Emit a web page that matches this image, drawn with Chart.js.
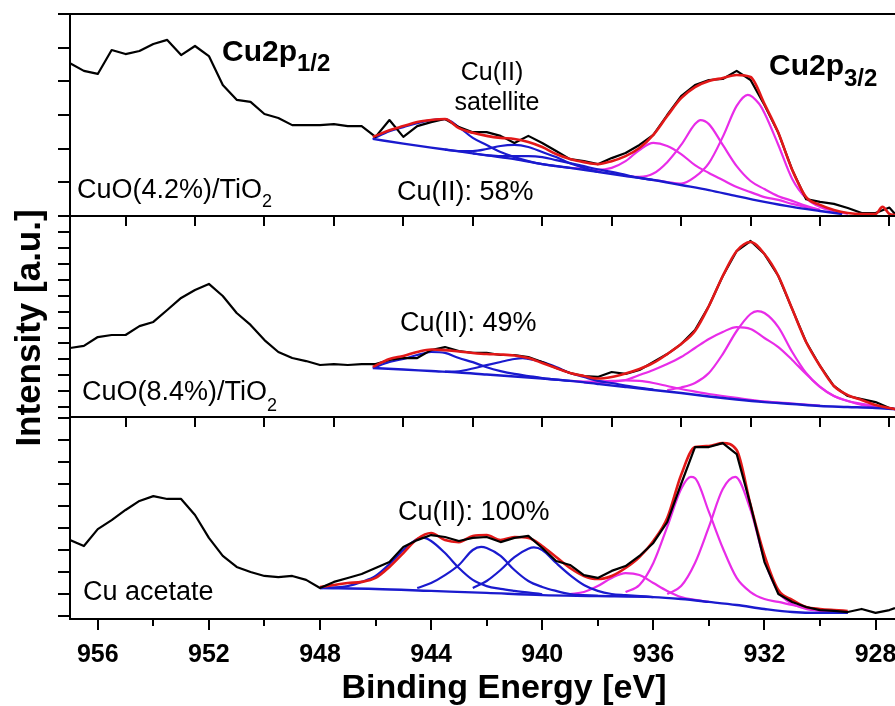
<!DOCTYPE html>
<html>
<head>
<meta charset="utf-8">
<script src="https://cdn.jsdelivr.net/npm/chart.js@4.4.1/dist/chart.umd.min.js"></script>
<style>
  html, body { margin: 0; padding: 0; background: #fff; }
  canvas { display: block; }
</style>
</head>
<body>
<canvas id="xps" width="895" height="706"></canvas>
<script>
// binding energy grid of the measured spectra (eV)
const energies = [957, 956.5, 956, 955.5, 955, 954.5, 954, 953.5, 953, 952.5,
  952, 951.5, 951, 950.5, 950, 949.5, 949, 948.5, 948, 947.5,
  947, 946.5, 946, 945.5, 945, 944.5, 944, 943.5, 943, 942.5,
  942, 941.5, 941, 940.5, 940, 939.5, 939, 938.5, 938, 937.5,
  937, 936.5, 936, 935.5, 935, 934.5, 934, 933.5, 933, 932.5,
  932, 931.5, 931, 930.5, 930, 929.5, 929, 928.5, 928, 927.5, 927.3];

// measured intensity, arbitrary units per panel
const measCuO42 = [45.4, 43.1, 42.2, 49.3, 48.1, 49.0, 51.1, 52.3, 47.8, 50.5,
  47.5, 38.9, 34.5, 33.9, 30.3, 29.1, 27.0, 27.0, 27.0, 27.3,
  26.7, 26.7, 23.5, 28.5, 23.5, 26.7, 27.9, 28.8, 26.4, 24.9,
  24.9, 23.8, 21.7, 23.8, 21.7, 19.3, 16.9, 16.3, 15.4, 17.2,
  18.7, 21.1, 24.1, 30.0, 35.6, 38.9, 40.4, 40.7, 43.1, 40.4,
  33.0, 24.7, 13.7, 5.0, 4.2, 3.6, 2.4, 0.9, 0.9, 2.5, 0.6];
const measCuO84 = [37.1, 38.4, 44.0, 45.3, 45.3, 50.9, 53.5, 61.0, 68.6, 73.6,
  77.4, 69.8, 59.1, 51.6, 42.1, 34.6, 30.8, 28.9, 26.4, 27.0,
  26.4, 27.0, 27.0, 29.6, 30.8, 30.8, 35.8, 37.7, 35.2, 34.0,
  34.0, 32.7, 32.7, 31.4, 28.3, 24.5, 21.4, 19.5, 18.9, 22.0,
  20.8, 23.3, 28.3, 33.3, 39.6, 48.4, 63.5, 82.4, 98.1, 104.4,
  96.2, 82.4, 61.6, 40.9, 25.8, 13.2, 6.9, 5.0, 3.1, -0.6, -1.3];
const measAcetate = [34.5, 31.8, 39.5, 43.6, 48.2, 52.3, 54.5, 53.2, 53.2, 45.9,
  35.5, 27.3, 22.3, 20.0, 18.2, 17.7, 18.2, 16.4, 12.7, 15.5,
  17.3, 19.1, 21.8, 24.5, 31.4, 34.5, 36.8, 35.9, 34.1, 35.5,
  35.9, 33.6, 35.5, 36.4, 30.9, 25.0, 23.2, 18.6, 17.3, 20.5,
  22.7, 27.3, 33.2, 42.7, 60.0, 76.8, 76.8, 78.6, 73.6, 50.5,
  24.5, 10.0, 6.4, 4.1, 2.7, 2.3, 1.8, 3.2, 1.4, 2.7, 3.6];

// fitted curves, [energy, intensity]
const envCuO42 = [[946.1,23.5],[946,23.8],[945.5,25.5],[945,26.7],[944.5,27.9],[944,28.5],[943.5,28.8],[943,26.1],[942.5,24.7],[942,23.8],[941.5,23.2],[941,22.9],[940.5,22.0],[940,20.5],[939.5,18.4],[939,16.9],[938.5,16.0],[938,15.4],[937.5,16.3],[937,17.8],[936.5,20.2],[936,24.1],[935.5,29.7],[935,35.0],[934.5,38.3],[934,40.1],[933.5,41.0],[933,41.9],[932.5,41.3],[932,33.3],[931.5,24.7],[931,13.7],[930.5,5.6],[930,3.3],[929.5,1.8],[929,0.9],[928.5,0.6],[928,0.6],[927.75,2.7],[927.5,0.6],[927.3,0.3]];
const bgCuO42 = [[946.1,22.9],[945,21.5],[944,20.3],[943,19.2],[942,18.0],[941,16.9],[940,15.4],[939,14.3],[938,13.1],[937,11.9],[936,10.7],[935,9.2],[934,7.7],[933,5.9],[932,4.2],[931,2.7],[930,1.5],[929.2,0.6]];
const satCuO42 = [
  [[946.1,22.9],[945.5,25.2],[945,26.4],[944.5,27.6],[944,28.5],[943.5,28.8],[943,26.4],[942.5,23.2],[942,21.1],[941.5,19.0],[941,17.5],[940.5,16.3],[940,15.4],[939.5,14.8],[939,14.3]],
  [[943.5,19.7],[943,19.3],[942.5,19.3],[942,19.9],[941.5,20.8],[941,21.1],[940.5,20.5],[940,19.0],[939.5,17.5],[939,15.7],[938.5,14.3],[938,13.1]],
  [[942.5,18.6],[942,18.1],[941.5,17.8],[941,17.8],[940.5,17.8],[940,17.5],[939.5,16.6],[939,15.7],[938.5,14.8],[938,13.9],[937.5,13.1],[937,12.2],[936.5,11.3],[936,10.7]]
];
const mainCuO42 = [
  [[939,14.3],[938.5,14.0],[938,13.7],[937.5,14.3],[937,16.3],[936.5,19.6],[936,21.7],[935.5,20.8],[935,18.4],[934.5,15.1],[934,12.8],[933.5,10.7],[933,8.6],[932.5,7.1],[932,5.6],[931.5,4.8],[931,3.6],[930,1.8]],
  [[937,11.9],[936.5,11.6],[936,12.6],[935.5,16.0],[935,21.1],[934.5,27.3],[934.3,28.5],[934,27.3],[933.5,21.1],[933,14.8],[932.5,10.4],[932,8.0],[931.5,5.9],[931,4.5],[930.5,3.0],[930,1.8]],
  [[936,10.7],[935.5,10.1],[935,9.6],[934.5,11.6],[934,15.7],[933.5,23.5],[933,32.7],[932.6,36.0],[932.2,33.4],[932,30.6],[931.5,21.1],[931,11.0],[930.5,5.3],[930,2.7],[929.5,1.5],[929,0.6]]
];

const envCuO84 = [[946.1,25.2],[945.5,30.2],[945,32.1],[944.5,34.6],[944,36.2],[943.5,35.8],[943,34.9],[942.5,34.0],[942,33.3],[941.5,33.0],[941,32.4],[940.5,30.8],[940,27.7],[939.5,24.5],[939,21.4],[938.5,19.5],[938,17.9],[937.5,18.9],[937,21.1],[936.5,23.9],[936,27.7],[935.5,33.3],[935,39.6],[934.5,47.8],[934,63.5],[933.5,82.4],[933,98.1],[932.5,103.8],[932,96.2],[931.5,82.4],[931,61.6],[930.5,40.9],[930,25.8],[929.5,13.2],[929,7.5],[928.5,4.4],[928,1.3],[927.5,-0.6],[927.3,-1.3]];
const bgCuO84 = [[946.1,24.5],[945,23.6],[944,22.6],[943,21.7],[942,20.4],[941,19.2],[940,17.9],[939,16.4],[938,14.5],[937,12.6],[936,10.7],[935,8.8],[934,6.6],[933,4.7],[932,3.1],[931,1.9],[930,0.6],[929,0],[928,-0.6],[927.3,-1.3]];
const satCuO84 = [
  [[946.1,24.5],[945.5,28.3],[945,30.2],[944.5,32.7],[944,34.6],[943.5,34.0],[943,30.8],[942.5,28.2],[942,25.0],[941.5,22.6],[941,20.8],[940.5,19.5],[940,18.2],[939,16.4]],
  [[943.5,22.2],[943,22.5],[942.5,24.2],[942,26.3],[941.5,28.3],[941,30.2],[940.7,30.7],[940.5,30.2],[940,28.3],[939.5,25.2],[939,21.4],[938.5,18.9],[938,16.4],[937.5,15.1],[937,13.5],[936,10.9]]
];
const mainCuO84 = [
  [[939,16.4],[938.5,16.0],[938,16.0],[937.5,16.4],[937,16.7],[936.5,16.4],[936,15.1],[935.5,13.2],[935,11.3],[934.5,9.7],[934,8.2],[933,5.7],[932,3.5],[931,2.2],[930,0.9]],
  [[938.5,15.5],[938,15.1],[937.5,15.8],[937,17.0],[936.5,20.1],[936,23.3],[935.5,27.0],[935,31.4],[934.5,37.1],[934,42.8],[933.5,47.2],[933,50.3],[932.5,49.1],[932,43.4],[931.5,37.7],[931,29.6],[930.5,20.8],[930,12.6],[929.5,6.9],[929,3.8],[928.5,1.3],[928,0],[927.3,-1.3]],
  [[935.5,10.7],[935,12.3],[934.5,15.1],[934,21.4],[933.5,33.3],[933,47.8],[932.5,58.5],[932.25,60.3],[932,59.1],[931.5,50.3],[931,34.6],[930.5,21.4],[930,12.6],[929.5,6.9],[929,3.8],[928,0.6],[927.3,-1.3]]
];

const envAcetate = [[948,13.2],[947.5,14.1],[947,15.0],[946.5,15.5],[946,17.3],[945.5,22.3],[945,28.6],[944.5,35.0],[944,37.7],[943.5,34.5],[943,33.6],[942.5,36.4],[942,36.8],[941.5,34.5],[941,35.9],[940.5,35.5],[940,31.8],[939.5,26.8],[939,21.8],[938.5,18.2],[938,16.8],[937.5,18.2],[937,21.8],[936.5,26.8],[936,34.1],[935.5,44.5],[935,64.1],[934.5,76.8],[934,77.3],[933.5,78.6],[933,75.5],[932.5,50.5],[932,27.7],[931.5,11.8],[931,7.3],[930.5,4.1],[930,3.2],[929.5,2.7],[929,2.3]];
const bgAcetate = [[948,12.7],[946,12.3],[944,11.4],[942,10.5],[940,9.5],[938,9.1],[936,8.6],[935,7.7],[934,6.4],[933,5.0],[932,3.2],[931,1.8],[930,1.4],[929,1.4]];
const satAcetate = [
  [[948,12.7],[947,13.6],[946.5,15.5],[946,18.2],[945.5,23.6],[945,30.0],[944.5,35.0],[944.3,35.6],[944,34.1],[943.5,28.6],[943,21.8],[942.5,16.4],[942,13.6],[941.5,12.3],[941,11.4],[940,9.9]],
  [[944.5,12.7],[944,15.0],[943.5,18.6],[943,23.2],[942.5,30.0],[942.2,31.4],[942,30.9],[941.5,27.3],[941,20.9],[940.5,15.9],[940,13.2],[939.5,11.4],[939,10.0],[938,9.2]],
  [[942.5,12.7],[942,15.9],[941.5,20.9],[941,26.8],[940.5,30.6],[940.3,31.2],[940,30.0],[939.5,24.1],[939,18.6],[938.5,14.1],[938,11.4],[937.5,10.0],[937,9.5],[936,8.6]]
];
const mainAcetate = [
  [[939,10.0],[938.5,10.9],[938,13.6],[937.5,17.3],[937,19.5],[936.5,18.6],[936,15.0],[935.5,11.4],[935,8.6],[934.5,7.3],[934,6.4]],
  [[937,10.9],[936.5,14.1],[936,24.1],[935.5,40.5],[935,57.7],[934.65,63.2],[934.5,62.7],[934,47.3],[933.5,30.9],[933,17.3],[932.5,10.9],[932,7.7],[931.5,6.4],[931,5.0],[930,2.5]],
  [[935.5,10.0],[935,13.6],[934.5,24.1],[934,40.5],[933.5,57.7],[933.05,63.2],[932.5,48.2],[932,25.5],[931.5,10.9],[931,5.5],[930.5,3.2],[930,2.3],[929.5,1.8],[929,1.4]]
];

// axis ticks
const xMajorTicks = [956, 952, 948, 944, 940, 936, 932, 928];
const xTickLabels = ['956', '952', '948', '944', '940', '936', '932', '928'];
const xMinorTicks = [954, 950, 946, 942, 938, 934, 930];
const panelTopTicks = [955, 952.5, 950, 947.5, 945, 942.5, 940, 937.5, 935, 932.5, 930, 927.5];
const yTicksTop = [0, 10, 20, 30, 40, 50, 60];
const yTicksMid = [0, 10, 20, 30, 40, 50, 60, 70, 80, 90, 100, 110, 120];
const yTicksLow = [0, 10, 20, 30, 40, 50, 60, 70, 80, 90];

const BLACK = '#000000';
const RED = 'rgb(226,24,24)';
const BLUE = 'rgb(26,26,206)';
const MAGENTA = 'rgb(232,44,232)';
const FONT = "'Liberation Sans', Arial, sans-serif";

function toPoints(xs, ys) {
  return xs.map(function (x, i) { return { x: x, y: ys[i] }; });
}
function fromPairs(p) {
  return p.map(function (d) { return { x: d[0], y: d[1] }; });
}
function line(data, color, width, axis, order, smooth) {
  return {
    data: data,
    yAxisID: axis,
    borderColor: color,
    borderWidth: width,
    pointRadius: 0,
    fill: false,
    order: order,
    tension: 0,
    cubicInterpolationMode: smooth ? 'monotone' : 'default',
    borderJoinStyle: 'round'
  };
}

const datasets = [];
function addPanel(axis, meas, env, bg, sats, mains, dataOnTop) {
  sats.forEach(function (s) { datasets.push(line(fromPairs(s), BLUE, 2.2, axis, 4, true)); });
  mains.forEach(function (m) { datasets.push(line(fromPairs(m), MAGENTA, 2.2, axis, 4, true)); });
  datasets.push(line(fromPairs(bg), BLUE, 2.4, axis, 3, true));
  datasets.push(line(fromPairs(env), RED, 2.6, axis, dataOnTop ? 2 : 1, true));
  datasets.push(line(toPoints(energies, meas), BLACK, 2.2, axis, dataOnTop ? 1 : 2, false));
}
addPanel('y1', measCuO42, envCuO42, bgCuO42, satCuO42, mainCuO42, false);
addPanel('y2', measCuO84, envCuO84, bgCuO84, satCuO84, mainCuO84, false);
addPanel('y3', measAcetate, envAcetate, bgAcetate, satAcetate, mainAcetate, true);

function rich(ctx, x, y, parts) {
  let cx = x;
  parts.forEach(function (p) {
    ctx.font = p.font;
    ctx.fillText(p.t, cx, y + (p.dy || 0));
    cx += ctx.measureText(p.t).width;
  });
}

const framePlugin = {
  id: 'frame',
  afterDatasetsDraw: function (chart) {
    const ctx = chart.ctx;
    const a = chart.chartArea;
    const sx = chart.scales.x;
    const s1 = chart.scales.y1, s2 = chart.scales.y2, s3 = chart.scales.y3;
    const sep1 = s1.getPixelForValue(0);
    const sep2 = s3.getPixelForValue(90.5);

    ctx.save();
    ctx.strokeStyle = BLACK;
    ctx.lineWidth = 2;
    ctx.lineCap = 'butt';
    ctx.beginPath();
    ctx.moveTo(a.left, a.top); ctx.lineTo(a.right, a.top);
    ctx.moveTo(a.left, sep1); ctx.lineTo(a.right, sep1);
    ctx.moveTo(a.left, sep2); ctx.lineTo(a.right, sep2);
    ctx.moveTo(a.left - 1, a.bottom); ctx.lineTo(a.right, a.bottom);
    ctx.moveTo(a.left, a.top - 1); ctx.lineTo(a.left, a.bottom + 1);

    // left ticks, outward
    [[s1, yTicksTop], [s2, yTicksMid], [s3, yTicksLow]].forEach(function (p) {
      p[1].forEach(function (v) {
        const py = Math.round(p[0].getPixelForValue(v));
        ctx.moveTo(a.left - 12, py); ctx.lineTo(a.left, py);
      });
    });
    // bottom ticks, outward
    xMajorTicks.forEach(function (v) {
      const px = Math.round(sx.getPixelForValue(v));
      ctx.moveTo(px, a.bottom); ctx.lineTo(px, a.bottom + 11);
    });
    xMinorTicks.forEach(function (v) {
      const px = Math.round(sx.getPixelForValue(v));
      ctx.moveTo(px, a.bottom); ctx.lineTo(px, a.bottom + 7);
    });
    // ticks on the top edge of the lower panels, inward
    [sep1, sep2].forEach(function (py) {
      panelTopTicks.forEach(function (v) {
        const px = Math.round(sx.getPixelForValue(v));
        ctx.moveTo(px, py); ctx.lineTo(px, py + 10);
      });
    });
    ctx.stroke();

    ctx.fillStyle = BLACK;
    ctx.textBaseline = 'alphabetic';

    // tick labels
    ctx.font = 'bold 25px ' + FONT;
    ctx.textAlign = 'center';
    xMajorTicks.forEach(function (v, i) {
      ctx.fillText(xTickLabels[i], sx.getPixelForValue(v), a.bottom + 43);
    });

    // axis titles
    ctx.font = 'bold 34px ' + FONT;
    ctx.fillText('Binding Energy [eV]', 504, 698);
    ctx.save();
    ctx.translate(40, 328);
    ctx.rotate(-Math.PI / 2);
    ctx.font = 'bold 35px ' + FONT;
    ctx.fillText('Intensity [a.u.]', 0, 0);
    ctx.restore();

    ctx.font = '25px ' + FONT;
    ctx.fillText('Cu(II)', 492, 80);
    ctx.fillText('satellite', 497, 110);

    ctx.textAlign = 'left';
    rich(ctx, 222, 61, [{ t: 'Cu2p', font: 'bold 30px ' + FONT }, { t: '1/2', font: 'bold 24px ' + FONT, dy: 10 }]);
    rich(ctx, 769, 75, [{ t: 'Cu2p', font: 'bold 30px ' + FONT }, { t: '3/2', font: 'bold 24px ' + FONT, dy: 11 }]);

    rich(ctx, 77, 198, [{ t: 'CuO(4.2%)/TiO', font: '27px ' + FONT }, { t: '2', font: '18px ' + FONT, dy: 9 }]);
    rich(ctx, 82, 400, [{ t: 'CuO(8.4%)/TiO', font: '27px ' + FONT }, { t: '2', font: '18px ' + FONT, dy: 11 }]);
    ctx.font = '27px ' + FONT;
    ctx.fillText('Cu acetate', 83, 600);
    ctx.fillText('Cu(II): 58%', 397, 200);
    ctx.fillText('Cu(II): 49%', 400, 331);
    ctx.fillText('Cu(II): 100%', 398, 520);
    ctx.restore();
  }
};

new Chart(document.getElementById('xps'), {
  type: 'line',
  data: { datasets: datasets },
  options: {
    responsive: false,
    animation: false,
    devicePixelRatio: 1,
    layout: { padding: { left: 70, right: 0, top: 14, bottom: 87 } },
    plugins: { legend: { display: false }, tooltip: { enabled: false } },
    scales: {
      x: { type: 'linear', reverse: true, min: 927.3, max: 957, display: false },
      y1: { type: 'linear', min: -119.69, max: 60, display: false },
      y2: { type: 'linear', min: -133.33, max: 247.17, display: false },
      y3: { type: 'linear', min: -1.364, max: 273.64, display: false }
    }
  },
  plugins: [framePlugin]
});
</script>
</body>
</html>
